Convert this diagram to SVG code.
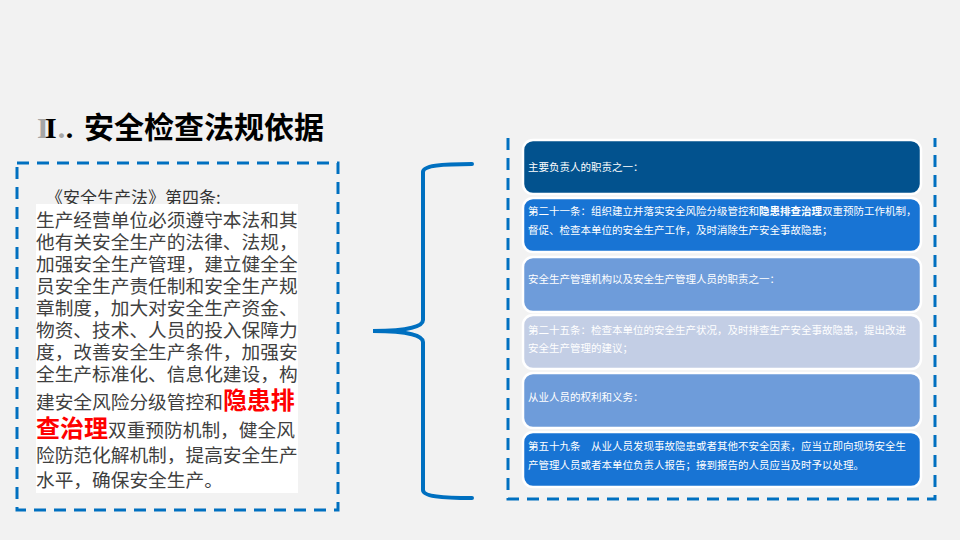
<svg xmlns="http://www.w3.org/2000/svg" width="960" height="540" viewBox="0 0 960 540">
<style>
.cjk{font-family:"Noto Sans CJK SC","Noto Sans",sans-serif}
.body{font-size:18.7px;fill:#404040}
.red{font-size:24px;font-weight:bold;fill:#FF0000}
.bt{font-size:10.5px;fill:#FFFFFF}
.box{stroke:#FFFFFF;stroke-width:2.5}
.dash{fill:none;stroke:#0070C0;stroke-width:3;stroke-dasharray:12 8}
.roman{font-family:"Liberation Serif",serif;font-size:30px;font-weight:bold;letter-spacing:9px}
</style>
<rect width="960" height="540" fill="#F2F2F2"/>
<g id="title">
<text x="37" y="138" class="roman" fill="#A6A6A6">I.</text>
<text x="45" y="138" class="roman" fill="#000000">I.</text>
<text x="84" y="138" class="cjk" font-size="30" font-weight="bold" fill="#000000">安全检查法规依据</text>
</g>
<g id="left-box">
<rect x="17" y="163" width="321" height="347" class="dash"/>
<text x="46" y="204" class="cjk" font-size="17" fill="#333333">《安全生产法》第四条:</text>
<rect x="36" y="204" width="262" height="289" fill="#FFFFFF"/>
<g class="cjk body">
<text x="36" y="227">生产经营单位必须遵守本法和其</text>
<text x="36" y="249">他有关安全生产的法律、法规，</text>
<text x="36" y="271">加强安全生产管理，建立健全全</text>
<text x="36" y="293">员安全生产责任制和安全生产规</text>
<text x="36" y="315">章制度，加大对安全生产资金、</text>
<text x="36" y="337">物资、技术、人员的投入保障力</text>
<text x="36" y="359">度，改善安全生产条件，加强安</text>
<text x="36" y="381">全生产标准化、信息化建设，构</text>
<text x="36" y="409">建安全风险分级管控和<tspan class="red">隐患排</tspan></text>
<text x="36" y="437"><tspan class="red">查治理</tspan>双重预防机制，健全风</text>
<text x="36" y="462">险防范化解机制，提高安全生产</text>
<text x="36" y="487">水平，确保安全生产。</text>
</g>
</g>
<g id="connectors">
<path d="M472 164 C440 164 423 166 423 172 L423 320 C423 326 410 331 373 331 C410 331 423 336 423 342 L423 490 C423 496 440 498 472 498" fill="none" stroke="#0070C0" stroke-width="4" stroke-linecap="round"/>
</g>
<g id="right-box">
<path d="M508 138 L508 499 L935 499 L935 138" class="dash"/>
</g>
<g id="box1">
<rect x="523" y="140" width="398" height="54" rx="10" fill="#02528E" class="box"/>
<text x="528" y="171" class="cjk bt">主要负责人的职责之一：</text>
</g>
<g id="box2">
<rect x="523" y="198" width="398" height="54" rx="10" fill="#1874D4" class="box"/>
<text x="528" y="215" class="cjk bt">第二十一条：组织建立并落实安全风险分级管控和<tspan font-weight="bold">隐患排查治理</tspan>双重预防工作机制，</text>
<text x="528" y="234" class="cjk bt">督促、检查本单位的安全生产工作，及时消除生产安全事故隐患；</text>
</g>
<g id="box3">
<rect x="523" y="257" width="398" height="55" rx="10" fill="#6E9CDA" class="box"/>
<text x="528" y="283" class="cjk bt">安全生产管理机构以及安全生产管理人员的职责之一：</text>
</g>
<g id="box4">
<rect x="523" y="315" width="398" height="54" rx="10" fill="#C3CEE5" class="box"/>
<text x="528" y="334" class="cjk bt">第二十五条：检查本单位的安全生产状况，及时排查生产安全事故隐患，提出改进</text>
<text x="528" y="352" class="cjk bt">安全生产管理的建议；</text>
</g>
<g id="box5">
<rect x="523" y="373" width="398" height="55" rx="10" fill="#6E9CDA" class="box"/>
<text x="528" y="401" class="cjk bt">从业人员的权利和义务：</text>
</g>
<g id="box6">
<rect x="523" y="432" width="398" height="55" rx="10" fill="#1874D4" class="box"/>
<text x="528" y="450" class="cjk bt">第五十九条　从业人员发现事故隐患或者其他不安全因素，应当立即向现场安全生</text>
<text x="528" y="469" class="cjk bt">产管理人员或者本单位负责人报告；接到报告的人员应当及时予以处理。</text>
</g>
</svg>
